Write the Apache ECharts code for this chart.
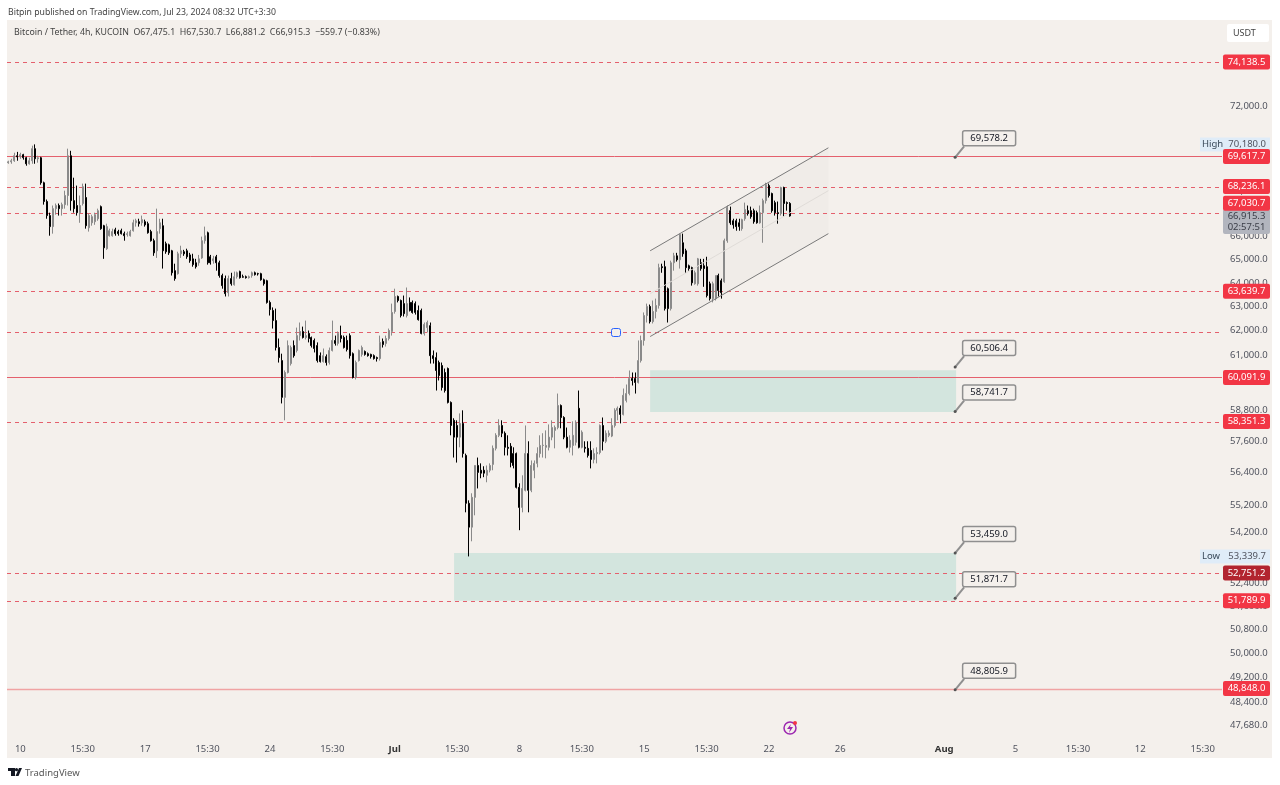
<!DOCTYPE html>
<html>
<head>
<meta charset="utf-8">
<title>BTC/USDT 4h</title>
<script src="https://cdn.jsdelivr.net/npm/echarts@6/dist/echarts.min.js"></script>
<style>
    html, body { margin: 0; padding: 0; background: #fff; }
    #chart { width: 1280px; height: 785px; }
</style>
</head>
<body>
<div id="chart"></div>
<script>
// x axis: one slot per 4h bar, labels sit on a few slots only
const slotCount = 409;
const tickSlots = [4, 25, 46, 67, 88, 109, 130, 151, 172, 193, 214, 235, 256, 280, 315, 339, 360, 381, 402];
const tickLabels = ['10', '15:30', '17', '15:30', '24', '15:30', 'Jul', '15:30', '8', '15:30', '15', '15:30', '22', '26', 'Aug', '5', '15:30', '12', '15:30'];
const boldTicks = ['Jul', 'Aug'];

// price axis labels (log scale)
const priceTicks = [72000, 68000, 66000, 65000, 64000, 63000, 62000, 61000, 58800, 57600, 56400, 55200, 54200, 52400, 51600, 50800, 50000, 49200, 48400, 47680];

// horizontal levels drawn on the chart
const solidLevels = [69617.7, 60091.9, 48848.0];
const dashedLevels = [74138.5, 68236.1, 67030.7, 63639.7, 61920, 58351.3, 52751.2, 51789.9];
const taggedLevels = [74138.5, 69617.7, 68236.1, 67030.7, 63639.7, 60091.9, 58351.3, 52751.2, 51789.9, 48848.0];

// callout boxes and the mint zones between them
const calloutPrices = [69578.2, 60506.4, 58741.7, 53459.0, 51871.7, 48805.9];
const calloutSlot = 319;
const zoneTop = [60380, 53459.0];
const zoneBottom = [58720, 51790];
const zoneStart = [216, 150];

// rising channel, [start, end]
const channelSlots = [216, 276];
const channelUpper = [65380, 70020];
const channelMiddle = [63540, 68050];
const channelLower = [61750, 66130];

const highPrice = 70180.0;
const lowPrice = 53339.7;
const lastPrice = 66915.3;

// [open, close, low, high]
const candles = [
    [69330,69370,69280,69420],[69370,69420,69280,69510],[69420,69650,69370,69790],[69650,69600,69420,69830],
    [69600,69700,69510,69790],[69700,69560,69470,69740],[69560,69280,69190,69600],[69280,69420,69240,69560],
    [69420,69980,69280,70120],[69980,69510,69280,70180],[69510,69560,69330,69650],[69560,68410,68320,69600],
    [68410,67560,67420,68460],[67560,66930,66790,67650],[66930,66440,66040,67060],[66440,67240,66130,67380],
    [67240,67380,66970,67470],[67380,67240,66930,67470],[67240,67420,66930,67510],[67420,67830,67240,68050],
    [67830,69650,67380,69980],[69650,67600,67150,69880],[67600,67240,67060,68640],[67380,67060,66930,68280],
    [67060,67380,66610,67830],[67470,68230,67380,68370],[67740,66480,66350,68370],[66390,66930,66220,67020],
    [66610,66880,66480,66970],[66660,66970,66520,67060],[66790,67150,66700,67240],[67330,66350,66300,67380],
    [66480,65510,65030,66520],[65470,66440,65420,66570],[66040,66260,66000,66350],[66040,66220,66000,66350],
    [66300,66130,66040,66390],[66220,66130,66040,66300],[66260,66130,66090,66350],[66130,66040,65820,66220],
    [66090,66130,66000,66220],[66040,66220,66000,66300],[66260,66610,66220,66750],[66610,66700,66440,66790],
    [66660,66570,66440,66790],[66610,66750,66480,66930],[66660,66520,66440,66750],[66570,66170,66130,66660],
    [66220,65820,65780,66300],[65820,65290,65160,65910],[65380,66220,65070,67240],[66350,66610,66130,66790],
    [66480,65380,64610,66790],[65690,65340,65250,65780],[65640,65290,65200,65690],[65380,64430,64310,65420],
    [64520,64180,64090,64820],[64390,65250,64350,65340],[65250,65380,65070,65600],[65340,65250,65160,65420],
    [65380,65120,65030,65470],[65200,64950,64860,65290],[65030,64780,64690,65250],[64860,64690,64610,65030],
    [64860,65030,64730,65200],[65070,65820,65030,66000],[65820,66040,65690,66440],[66170,64860,64780,66220],
    [65120,64860,64780,65200],[64950,65030,64820,65160],[65120,64860,64520,65200],[64860,64310,64220,64950],
    [64310,63880,63750,64390],[64180,63540,63420,64310],[63580,64180,63420,64310],[64180,63960,63880,64430],
    [63920,64260,63880,64480],[64260,64430,64180,64480],[64480,64220,64180,64520],[64260,64240,64220,64350],
    [64260,64220,64180,64310],[64220,64260,64180,64310],[64310,64430,64220,64480],[64430,64350,64310,64480],
    [64390,64380,64310,64430],[64390,64130,64090,64430],[64130,63960,63880,64180],[64090,63170,63120,64130],
    [63170,62870,62620,63250],[62830,62410,62080,62960],[62410,61300,61180,62910],[61300,60890,60690,61670],
    [60770,59300,59060,61050],[59300,60290,58400,60370],[60290,61380,60250,61590],[60650,61300,60570,61380],
    [61380,60970,60890,61590],[61180,61790,61100,62120],[61790,61960,61590,62330],[61960,61710,61670,62160],
    [61710,61790,61630,62410],[61880,61670,61510,62000],[61710,61380,61300,61750],[61590,61260,61100,61670],
    [61380,60770,60690,61510],[60970,60730,60690,61100],[60730,60970,60690,61260],[60930,60690,60570,61020],
    [60690,61180,60610,61300],[61180,61590,61140,62410],[61590,61470,61380,61790],[61470,61880,61380,61960],
    [61790,61670,61510,62200],[61710,61300,61260,61790],[61590,61220,61140,61790],[61790,60970,60850,61880],
    [61050,60090,60050,61100],[60090,60690,60010,60770],[60770,61180,60730,61220],[61020,61300,60930,61380],
    [61140,61020,60970,61180],[61050,60970,60930,61100],[61020,60930,60850,61050],[60970,60850,60810,61020],
    [60890,60850,60730,60930],[60850,61510,60770,61790],[61550,61420,61300,61670],[61470,61670,61340,61790],
    [61670,62000,61590,62080],[61960,62750,61790,63120],[62790,63420,62700,63750],[63420,63250,63170,63460],
    [63250,62620,62540,63290],[63120,62700,62580,63460],[62620,63120,62540,63800],[63170,62830,62790,63380],
    [63170,62750,62700,63250],[63120,62750,62660,63210],[62830,62450,62410,63040],[62830,61880,61840,62910],
    [61880,62250,61790,62330],[62120,62330,61920,62410],[62200,60970,60650,62330],[60970,60850,60650,61180],
    [60890,60370,59570,61100],[60690,60170,59970,60770],[60570,59690,59570,60690],[60290,59570,59490,60450],
    [60450,59100,59060,60490],[59100,58200,57820,59140],[58400,57750,56970,58480],[58200,57750,56780,58400],
    [57750,58280,57360,58670],[58280,57120,56970,58790],[57050,55260,54930,57120],[55260,54390,53340,55370],
    [54390,55480,53880,55630],[55480,56670,54820,56670],[56670,56410,55810,56970],[56490,56380,56190,56750],
    [56490,56380,56230,56640],[56300,56490,56040,56670],[56490,56670,56410,56750],[56710,57320,56490,57430],
    [57320,57820,57240,57900],[57820,58200,57750,58440],[58200,57900,57750,58400],[57900,57360,57050,57970],
    [57360,57320,57050,57820],[57400,56780,56600,57520],[57120,56670,56560,57360],[57120,55850,55810,57160],
    [55850,55110,54280,56000],[55110,55810,54930,56300],[55740,57120,55700,58200],[57120,55740,54930,57590],
    [55740,56670,55670,56860],[56490,56750,56190,56860],[56750,57120,56600,57360],[57120,57430,56970,57820],
    [57430,57440,56970,57900],[57360,57430,56940,58010],[57360,57750,57240,58240],[57750,58120,57630,58400],
    [58010,58120,57320,58200],[58120,58980,58050,59450],[58980,58510,58090,59020],[58510,57750,57670,58560],
    [57750,57360,57320,58120],[57360,57630,57160,57820],[57430,57820,57050,58360],[57550,58320,57430,58400],
    [58870,57360,57320,59570],[57360,57940,57320,58010],[57360,57320,57160,57590],[57320,57050,56970,57590],
    [57240,56900,56560,57590],[56900,57120,56750,57320],[57120,57160,56750,57360],[57160,58200,57090,58240],
    [58200,57590,57240,58510],[57590,57900,57520,58010],[57820,57900,57750,58010],[57790,58200,57750,58480],
    [58200,58790,58120,58870],[58790,58870,58400,58940],[58870,58630,58280,58980],[58630,59380,58590,59650],
    [59180,59450,59100,59810],[59450,60050,59380,60370],[60050,59970,59770,60290],[60050,59890,59450,60290],
    [59890,60770,59850,61590],[60770,61590,60690,61790],[61590,62620,61380,62750],[62620,63000,62330,63120],
    [63000,62370,62290,63080],[62370,62790,62290,63250],[62790,63040,62500,63330],[63040,64650,62910,64820],
    [64690,64650,64430,64820],[64690,62910,62830,64950],[63750,62910,62330,63800],[62910,64860,62830,64950],
    [64860,65160,64520,65290],[65160,64990,64910,65290],[64990,66090,64610,66130],[65730,65250,65120,66130],
    [65380,64650,64430,65470],[64730,64610,64520,64780],[64650,64000,63880,64690],[63960,64430,63920,64520],
    [63960,65030,63880,65070],[64860,64610,64520,65030],[64730,64610,63830,65030],[64690,63460,63380,65120],
    [63960,63330,63250,64050],[63330,63960,63170,64050],[63330,64310,63250,64310],[64310,63670,63420,64390],
    [64090,63580,63330,64180],[64050,65820,64000,65910],[65820,67290,65730,67380],[67150,66610,66520,67330],
    [66700,66520,66350,66790],[66700,66440,66260,66790],[66610,66440,66260,66790],[66350,66750,66260,66790],
    [66790,67200,66700,67510],[67150,67020,66930,67380],[67150,66880,66790,67330],[67150,66660,66570,67240],
    [67060,66610,66570,67150],[66610,67060,66570,67380],[67060,67600,65730,67690],[67600,68320,67470,68410],
    [68280,67830,67740,68370],[67920,67150,67060,67960],[67510,67060,66930,67600],[67060,67020,66570,67560],
    [67020,68190,66930,68230],[68190,67470,66880,68230],[67510,67475,67150,67560],[67475.1,66915.3,66881.2,67530.7]
];

const slotNames = [];
for (let i = 0; i < slotCount; i++) {
    const at = tickSlots.indexOf(i);
    slotNames.push(at >= 0 ? tickLabels[at] : '');
}

const FONT = '"Noto Sans", sans-serif';
const LABEL_FONT = '9.5px ' + FONT;
const fmt = (v) => v.toLocaleString('en-US', { minimumFractionDigits: 1, maximumFractionDigits: 1 });

// tags that tradingview pushes off their own price so they don't overlap
const tagShift = { 67030.7: -10 };

function renderLevel(params, api) {
    const cs = params.coordSys;
    const price = api.value(1);
    const y = Math.round(api.coord([0, price])[1]) + 0.5;
    const solid = solidLevels.indexOf(price) >= 0;
    const thick = price === 48848.0;
    return {
        type: 'line',
        shape: { x1: cs.x, y1: y, x2: cs.x + cs.width, y2: y },
        style: {
            stroke: thick ? '#f0a3a3' : '#e4606d',
            lineWidth: thick ? 1.5 : 1,
            lineDash: solid ? null : [4, 4]
        }
    };
}

function renderTag(params, api) {
    const cs = params.coordSys;
    const price = api.value(1);
    const y = api.coord([0, price])[1] + (tagShift[price] || 0);
    const left = cs.x + cs.width + 1;
    const fill = price === 52751.2 ? '#b2242f' : '#f23645';
    return {
        type: 'group',
        children: [
            { type: 'rect', shape: { x: left, y: y - 7.5, width: 47, height: 15, r: 2 }, style: { fill: fill } },
            { type: 'text', style: { text: fmt(price), x: left + 23.5, y: y, fill: '#fff', font: LABEL_FONT, textAlign: 'center', textVerticalAlign: 'middle' } }
        ]
    };
}

function renderExtreme(params, api) {
    const cs = params.coordSys;
    const price = api.value(1);
    const y = api.coord([0, price])[1];
    const right = cs.x + cs.width + 48;
    return {
        type: 'group',
        children: [
            { type: 'rect', shape: { x: right - 70, y: y - 7, width: 70, height: 14 }, style: { fill: '#dfecf8' } },
            { type: 'text', style: { text: price === highPrice ? 'High' : 'Low', x: right - 68, y: y, fill: '#3a4a5a', font: LABEL_FONT, textVerticalAlign: 'middle' } },
            { type: 'text', style: { text: fmt(price), x: right - 4, y: y, fill: '#50535e', font: LABEL_FONT, textAlign: 'right', textVerticalAlign: 'middle' } }
        ]
    };
}

function renderLast(params, api) {
    const cs = params.coordSys;
    const y = api.coord([0, api.value(1)])[1];
    const left = cs.x + cs.width + 1;
    return {
        type: 'group',
        children: [
            { type: 'rect', shape: { x: left, y: y - 7, width: 47, height: 25, r: 2 }, style: { fill: '#b2b5be' } },
            { type: 'text', style: { text: fmt(api.value(1)), x: left + 23.5, y: y, fill: '#3a3d47', font: LABEL_FONT, textAlign: 'center', textVerticalAlign: 'middle' } },
            { type: 'text', style: { text: '02:57:51', x: left + 23.5, y: y + 11, fill: '#3a3d47', font: LABEL_FONT, textAlign: 'center', textVerticalAlign: 'middle' } }
        ]
    };
}

function renderCallout(params, api) {
    const p = api.coord([api.value(0), api.value(1)]);
    const x = p[0] - 1;
    const y = p[1];
    return {
        type: 'group',
        children: [
            { type: 'line', shape: { x1: x, y1: y, x2: x + 9, y2: y - 11 }, style: { stroke: '#8f8f8f', lineWidth: 2 } },
            { type: 'circle', shape: { cx: x, cy: y, r: 1.5 }, style: { fill: '#555' } },
            { type: 'rect', shape: { x: x + 7.5, y: y - 26.5, width: 53, height: 15, r: 2 }, style: { fill: '#f4f0ec', stroke: '#8f8f8f', lineWidth: 1.5 } },
            { type: 'text', style: { text: fmt(api.value(1)), x: x + 34, y: y - 19, fill: '#131722', font: LABEL_FONT, textAlign: 'center', textVerticalAlign: 'middle' } }
        ]
    };
}

function renderChannelFill(params, api) {
    const a = api.coord([channelSlots[0], channelUpper[0]]);
    const b = api.coord([channelSlots[1], channelUpper[1]]);
    const c = api.coord([channelSlots[1], channelLower[1]]);
    const d = api.coord([channelSlots[0], channelLower[0]]);
    return { type: 'polygon', shape: { points: [a, b, c, d] }, style: { fill: 'rgba(120,123,134,0.03)' } };
}

function channelLine(prices, color) {
    return {
        type: 'line',
        data: [[channelSlots[0], prices[0]], [channelSlots[1], prices[1]]],
        showSymbol: false,
        silent: true,
        z: 4,
        lineStyle: { color: color, width: 1 }
    };
}

const chart = echarts.init(document.getElementById('chart'), null, { renderer: 'canvas' });
chart.setOption({
    animation: false,
    backgroundColor: '#fff',
    title: [
        { text: 'Bitpin published on TradingView.com, Jul 23, 2024 08:32 UTC+3:30', left: 8, top: 8, padding: 0, textStyle: { fontFamily: FONT, fontSize: 8.7, fontWeight: 'normal', color: '#444' } },
        { text: 'Bitcoin / Tether, 4h, KUCOIN  O67,475.1  H67,530.7  L66,881.2  C66,915.3  −559.7 (−0.83%)', left: 14, top: 28, padding: 0, textStyle: { fontFamily: FONT, fontSize: 8.8, fontWeight: 'normal', color: '#444' } },
        { text: 'TradingView', left: 25, top: 768, padding: 0, textStyle: { fontFamily: FONT, fontSize: 9.5, fontWeight: 'normal', color: '#555' } },
        { text: 'USDT', left: 1233, top: 29, padding: 0, textStyle: { fontFamily: FONT, fontSize: 9, fontWeight: 'normal', color: '#444' } }
    ],
    graphic: [
        { type: 'rect', z: -10, silent: true, shape: { x: 7, y: 20, width: 1265, height: 738 }, style: { fill: '#f4f0ec' } },
        { type: 'rect', z: 1, silent: true, shape: { x: 1227, y: 24, width: 42, height: 18, r: 2 }, style: { fill: '#fff' } },
        // blue handle on the chart
        { type: 'rect', z: 5, silent: true, shape: { x: 611.5, y: 328.5, width: 9, height: 8, r: 2 }, style: { fill: '#f4f0ec', stroke: '#2962ff', lineWidth: 1 } },
        // lightning badge
        { type: 'circle', z: 5, silent: true, shape: { cx: 790, cy: 728, r: 6 }, style: { fill: 'none', stroke: '#9c27b0', lineWidth: 1.5 } },
        { type: 'polygon', z: 5, silent: true, shape: { points: [[791, 724], [787, 729], [790, 729], [789, 733], [793, 727], [790, 727]] }, style: { fill: '#9c27b0' } },
        { type: 'circle', z: 6, silent: true, shape: { cx: 795, cy: 723, r: 2 }, style: { fill: '#f23645' } },
        // tradingview logo
        { type: 'rect', silent: true, shape: { x: 8, y: 768, width: 7, height: 3 }, style: { fill: '#131722' } },
        { type: 'rect', silent: true, shape: { x: 11, y: 771, width: 4, height: 5 }, style: { fill: '#131722' } },
        { type: 'circle', silent: true, shape: { cx: 16.5, cy: 769.7, r: 1.6 }, style: { fill: '#131722' } },
        { type: 'polygon', silent: true, shape: { points: [[15.5, 776], [19, 768], [22, 768], [18.5, 776]] }, style: { fill: '#131722' } }
    ],
    grid: { left: 7, right: 58, top: 20, bottom: 27, containLabel: false },
    xAxis: {
        type: 'category',
        data: slotNames,
        boundaryGap: true,
        axisLine: { show: false },
        axisTick: { show: false },
        splitLine: { show: false },
        axisLabel: {
            inside: true,
            margin: 4,
            interval: (index) => tickSlots.indexOf(index) >= 0,
            color: '#50535e',
            fontFamily: FONT,
            fontSize: 9.5,
            formatter: (v) => (boldTicks.indexOf(v) >= 0 ? '{b|' + v + '}' : v),
            rich: { b: { fontWeight: 'bold', fontFamily: FONT, fontSize: 9.5, color: '#333' } }
        }
    },
    yAxis: {
        type: 'log',
        position: 'right',
        min: 46640,
        max: 76240,
        axisLine: { show: false },
        axisTick: { show: false },
        splitLine: { show: false },
        axisLabel: {
            customValues: priceTicks,
            margin: 8,
            color: '#50535e',
            fontFamily: FONT,
            fontSize: 9.5,
            formatter: (v) => fmt(v)
        }
    },
    series: [
        { type: 'custom', renderItem: renderChannelFill, data: [[channelSlots[0], channelLower[0]]], silent: true, z: 1 },
        { type: 'custom', renderItem: renderLevel, data: solidLevels.concat(dashedLevels).map((p) => [0, p]), silent: true, z: 2 },
        {
            type: 'candlestick',
            data: candles,
            barWidth: 1.5,
            z: 3,
            itemStyle: { color: '#8a8a8a', color0: '#000', borderColor: '#8a8a8a', borderColor0: '#000', borderWidth: 1 },
            markArea: {
                silent: true,
                z: 1,
                itemStyle: { color: '#d3e5de' },
                data: zoneTop.map((top, i) => [
                    { xAxis: zoneStart[i], yAxis: top },
                    { xAxis: calloutSlot, yAxis: zoneBottom[i] }
                ])
            }
        },
        channelLine(channelUpper, '#7a7a7a'),
        channelLine(channelMiddle, '#e0dcd8'),
        channelLine(channelLower, '#7a7a7a'),
        { type: 'custom', renderItem: renderExtreme, data: [[0, highPrice], [0, lowPrice]], silent: true, z: 5 },
        { type: 'custom', renderItem: renderLast, data: [[0, lastPrice]], silent: true, z: 6 },
        { type: 'custom', renderItem: renderTag, data: taggedLevels.map((p) => [0, p]), silent: true, z: 7 },
        { type: 'custom', renderItem: renderCallout, data: calloutPrices.map((p) => [calloutSlot, p]), silent: true, z: 8 }
    ]
});
</script>
</body>
</html>
